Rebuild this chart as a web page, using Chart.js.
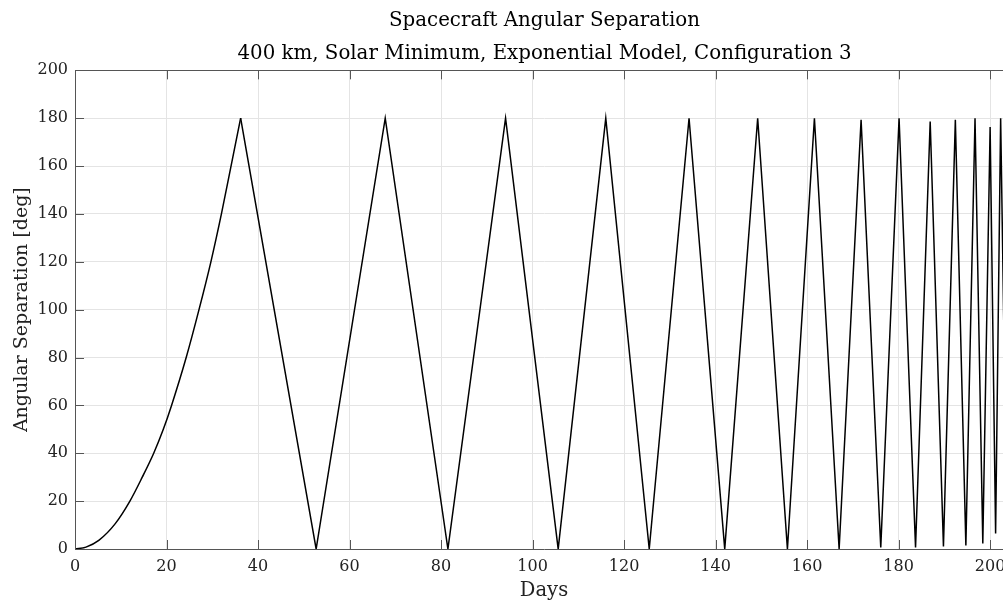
<!DOCTYPE html>
<html>
<head>
<meta charset="utf-8">
<script src="https://cdn.jsdelivr.net/npm/chart.js@4/dist/chart.umd.min.js"></script>
<style>
  html, body { margin: 0; padding: 0; background: #fff; overflow: hidden; }
  #wrap { width: 1089px; height: 603px; }
</style>
</head>
<body>
<div id="wrap"><canvas id="sepChart" width="1089" height="603"></canvas></div>
<script>
// Initial drift-up phase (days, deg)
const curveDays = [0, 2.4, 5.2, 8.8, 12.0, 14.7, 17.2, 19.3, 21.1, 24.3, 27.1, 29.7, 32.0, 34.1, 36.2];
const curveDeg  = [0, 0.8, 3.6, 10.6, 20, 30, 40, 50, 60, 80, 100, 120, 140, 160, 180];

// Peaks and troughs after the first 180 deg crossing
const zigDays = [36.2, 52.7, 67.8, 81.5, 94.1, 105.6, 116.0, 125.5, 134.2, 142.0, 149.2, 155.7,
                 161.6, 167.0, 171.8, 176.1, 180.1, 183.7, 186.9, 189.8, 192.4, 194.7, 196.7,
                 198.4, 200.0, 201.2, 202.3, 203.7];
const zigDeg  = [180, 0, 180, 0, 180, 0, 180, 0, 180, 0, 180, 0,
                 180, 0, 179.3, 0.6, 180, 0.6, 178.6, 1.1, 179.3, 1.5, 180,
                 2.3, 176.3, 6.5, 180, 4];

const xTickValues = [0, 20, 40, 60, 80, 100, 120, 140, 160, 180, 200];
const yTickValues = [0, 20, 40, 60, 80, 100, 120, 140, 160, 180, 200];

const serif = "'DejaVu Serif', serif";
const axisColor = '#555555';
const gridColor = '#e4e4e4';

function toPoints(xs, ys) {
    return xs.map((d, i) => ({ x: d, y: ys[i] }));
}

// MATLAB style inward ticks plus the top box edge
const innerTicks = {
    id: 'innerTicks',
    afterDatasetsDraw(chart) {
        const { ctx, chartArea: a, scales: { x, y } } = chart;
        const len = 9;
        ctx.save();
        ctx.strokeStyle = axisColor;
        ctx.lineWidth = 1;
        ctx.beginPath();
        x.ticks.forEach(t => {
            const px = Math.round(x.getPixelForValue(t.value)) + 0.5;
            ctx.moveTo(px, a.bottom);
            ctx.lineTo(px, a.bottom - len);
            ctx.moveTo(px, a.top);
            ctx.lineTo(px, a.top + len);
        });
        y.ticks.forEach(t => {
            const py = Math.round(y.getPixelForValue(t.value)) + 0.5;
            ctx.moveTo(a.left, py);
            ctx.lineTo(a.left + len, py);
        });
        const top = Math.round(a.top) + 0.5;
        ctx.moveTo(a.left, top);
        ctx.lineTo(a.right, top);
        ctx.stroke();
        ctx.restore();
    }
};

const ctx = document.getElementById('sepChart').getContext('2d');
new Chart(ctx, {
    type: 'line',
    data: {
        datasets: [
            {
                data: toPoints(curveDays, curveDeg),
                borderColor: '#000',
                borderWidth: 1.5,
                pointRadius: 0,
                cubicInterpolationMode: 'monotone'
            },
            {
                data: toPoints(zigDays, zigDeg),
                borderColor: '#000',
                borderWidth: 1.5,
                pointRadius: 0,
                tension: 0
            }
        ]
    },
    options: {
        responsive: false,
        animation: false,
        layout: { padding: 0 },
        plugins: {
            legend: { display: false },
            tooltip: { enabled: false },
            title: {
                display: true,
                text: ['Spacecraft Angular Separation',
                       '400 km, Solar Minimum, Exponential Model, Configuration 3'],
                color: '#000',
                font: { family: serif, size: 19.8, weight: 'normal', lineHeight: 1.65 },
                padding: { top: 5, bottom: 0 }
            }
        },
        scales: {
            x: {
                type: 'linear',
                min: 0,
                max: 205,
                afterBuildTicks: s => { s.ticks = xTickValues.map(v => ({ value: v })); },
                afterFit: s => { s.height = 54; },
                grid: { color: gridColor, drawTicks: false },
                border: { color: axisColor },
                ticks: { color: '#222', font: { family: serif, size: 16 }, padding: 8, maxRotation: 0 },
                title: {
                    display: true,
                    text: 'Days',
                    color: '#222',
                    font: { family: serif, size: 19.5 },
                    padding: { top: 3, bottom: 0 }
                }
            },
            y: {
                min: 0,
                max: 200,
                afterBuildTicks: s => { s.ticks = yTickValues.map(v => ({ value: v })); },
                afterFit: s => { s.width = 75; },
                grid: { color: gridColor, drawTicks: false },
                border: { color: axisColor },
                ticks: { color: '#222', font: { family: serif, size: 16 }, padding: 7 },
                title: {
                    display: true,
                    text: 'Angular Separation [deg]',
                    color: '#222',
                    font: { family: serif, size: 19 },
                    padding: { top: 11, bottom: 0 }
                }
            },
            // empty right-hand axis: keeps the plot box running past the cropped edge
            yRight: {
                position: 'right',
                min: 0,
                max: 200,
                afterFit: s => { s.width = 76; },
                grid: { display: false, drawTicks: false },
                border: { display: false },
                ticks: { display: false }
            }
        }
    },
    plugins: [innerTicks]
});
</script>
</body>
</html>
